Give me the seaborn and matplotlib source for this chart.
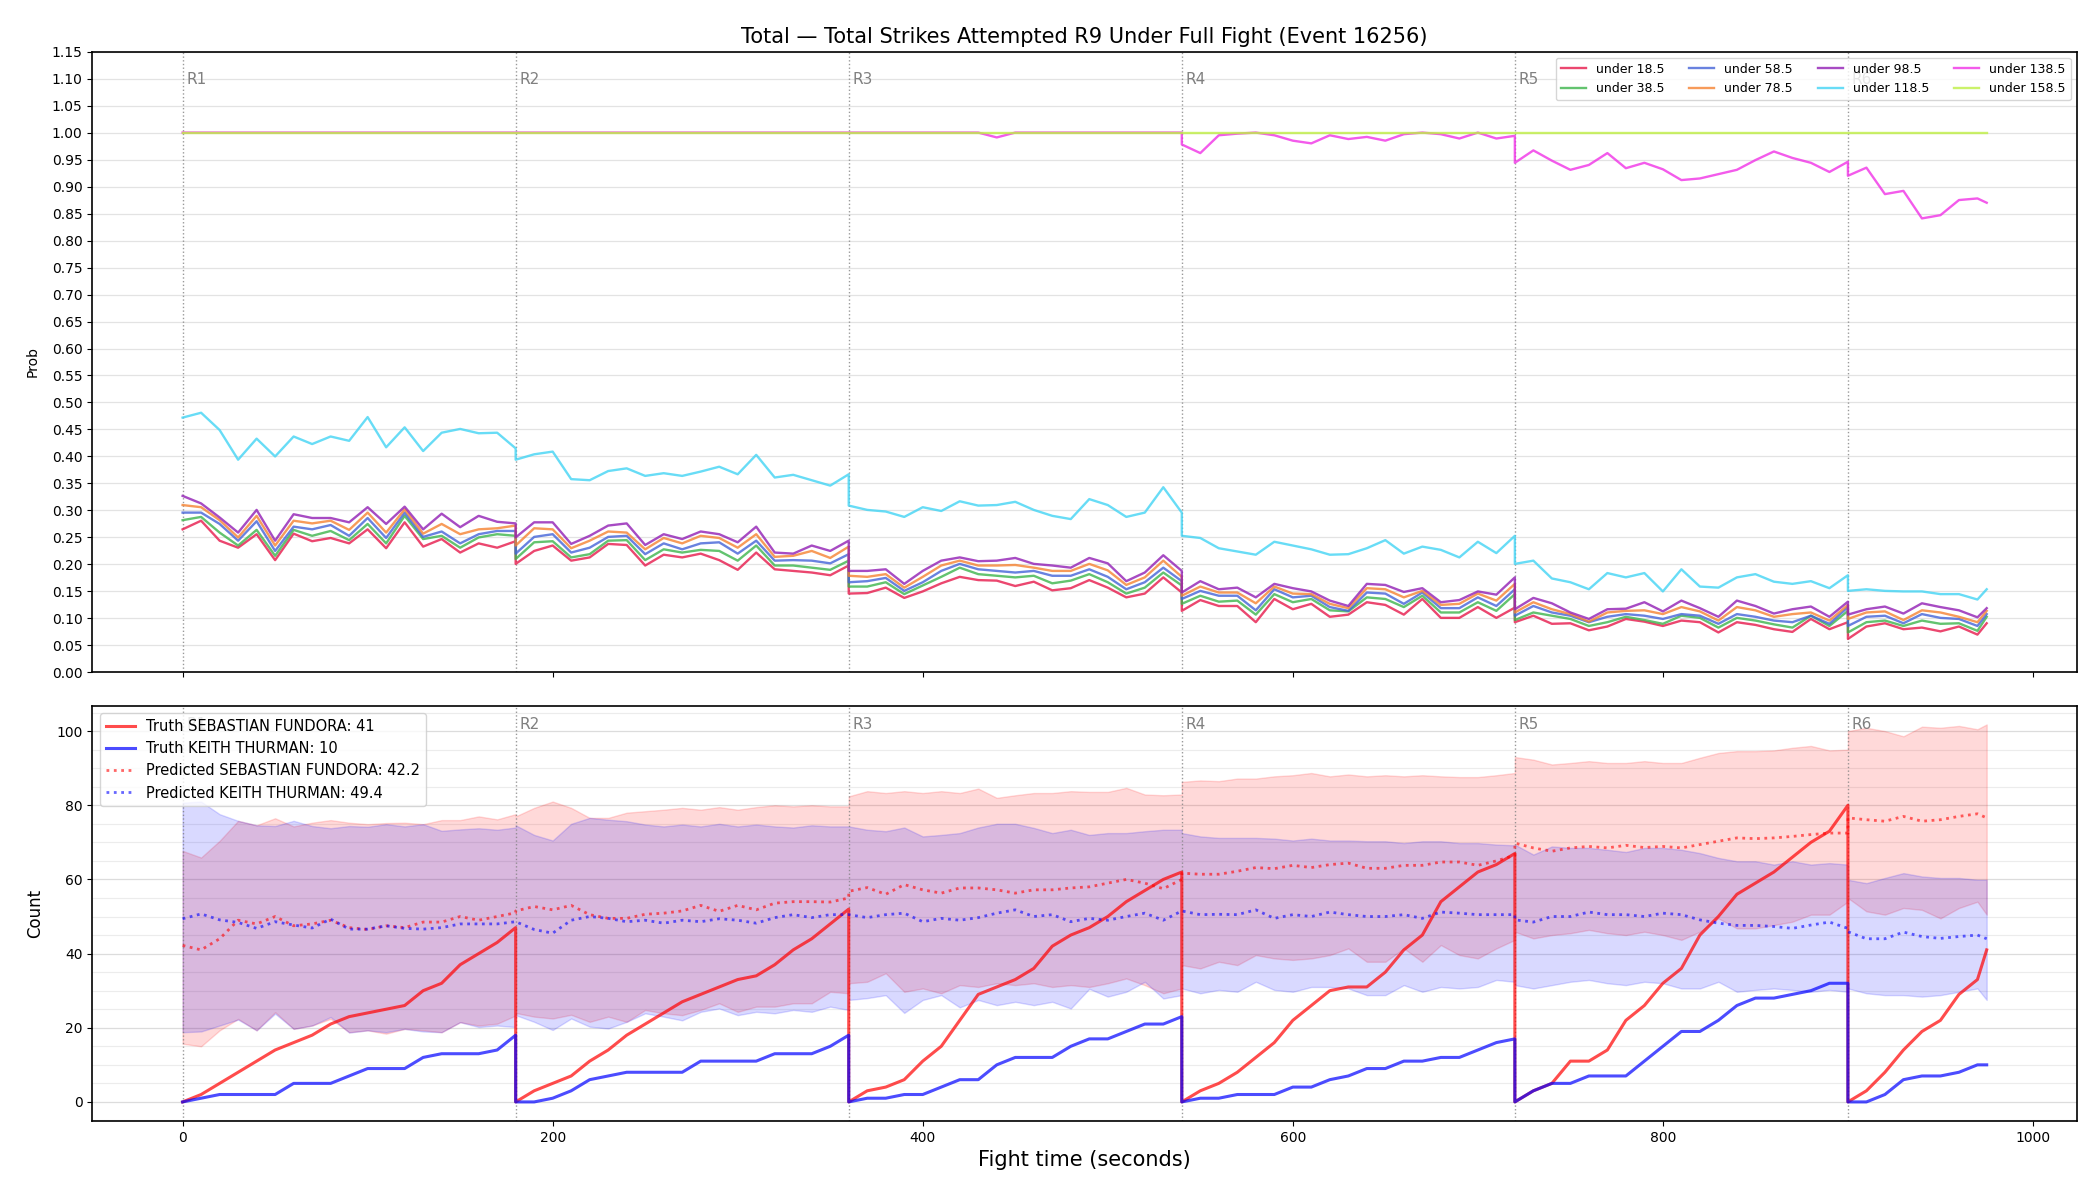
import numpy as np
import matplotlib
matplotlib.use("Agg")
import matplotlib.pyplot as plt
from matplotlib.ticker import MultipleLocator, FormatStrFormatter
import seaborn as sns

# round starts (seconds) and end of the fight
ROUND_STARTS = [0, 180, 360, 540, 720, 900]
FIGHT_END = 975

# each round sampled every 10 s; boundary times repeat so the reset is drawn
round_times = [np.arange(s, s + 181, 10) for s in ROUND_STARTS[:-1]]
round_times.append(np.append(np.arange(900, FIGHT_END, 10), FIGHT_END))
time = np.concatenate(round_times)

# ---- top panel: P(total strikes attempted in R9 under X) ----
line_labels = ["under 18.5", "under 38.5", "under 58.5", "under 78.5",
               "under 98.5", "under 118.5", "under 138.5", "under 158.5"]
line_colors = ["#e6194b", "#3cb44b", "#4363d8", "#f58231",
               "#911eb4", "#42d4f4", "#f032e6", "#bfef45"]

under_18 = [
    [0.265, 0.281, 0.244, 0.231, 0.256, 0.208, 0.257, 0.243, 0.249, 0.239, 0.265, 0.230, 0.278, 0.233, 0.247, 0.222, 0.239, 0.231, 0.243],
    [0.201, 0.225, 0.235, 0.207, 0.213, 0.238, 0.236, 0.198, 0.218, 0.213, 0.220, 0.208, 0.190, 0.222, 0.191, 0.188, 0.185, 0.180, 0.198],
    [0.146, 0.147, 0.157, 0.138, 0.150, 0.165, 0.177, 0.171, 0.170, 0.160, 0.168, 0.152, 0.156, 0.171, 0.157, 0.139, 0.146, 0.176, 0.148],
    [0.114, 0.134, 0.123, 0.123, 0.093, 0.136, 0.117, 0.127, 0.103, 0.107, 0.130, 0.125, 0.107, 0.136, 0.101, 0.101, 0.121, 0.101, 0.120],
    [0.093, 0.105, 0.090, 0.091, 0.078, 0.085, 0.099, 0.094, 0.086, 0.096, 0.093, 0.074, 0.093, 0.088, 0.080, 0.075, 0.099, 0.080, 0.093],
    [0.062, 0.085, 0.091, 0.080, 0.083, 0.076, 0.085, 0.070, 0.091],
]
under_38 = [
    [0.282, 0.288, 0.259, 0.235, 0.264, 0.216, 0.264, 0.253, 0.262, 0.245, 0.275, 0.239, 0.290, 0.247, 0.253, 0.231, 0.250, 0.256, 0.253],
    [0.210, 0.241, 0.243, 0.213, 0.219, 0.244, 0.245, 0.208, 0.228, 0.222, 0.227, 0.225, 0.207, 0.235, 0.198, 0.198, 0.194, 0.190, 0.207],
    [0.159, 0.159, 0.167, 0.145, 0.161, 0.177, 0.194, 0.182, 0.179, 0.176, 0.179, 0.165, 0.170, 0.182, 0.167, 0.146, 0.157, 0.185, 0.161],
    [0.127, 0.142, 0.131, 0.133, 0.107, 0.145, 0.130, 0.136, 0.115, 0.113, 0.139, 0.136, 0.121, 0.142, 0.111, 0.111, 0.130, 0.114, 0.145],
    [0.097, 0.111, 0.105, 0.099, 0.086, 0.093, 0.103, 0.097, 0.090, 0.105, 0.101, 0.083, 0.101, 0.096, 0.089, 0.083, 0.105, 0.086, 0.114],
    [0.074, 0.093, 0.096, 0.086, 0.096, 0.090, 0.091, 0.077, 0.103],
]
under_58 = [
    [0.296, 0.296, 0.275, 0.244, 0.280, 0.225, 0.270, 0.265, 0.273, 0.253, 0.286, 0.249, 0.296, 0.251, 0.261, 0.239, 0.256, 0.262, 0.262],
    [0.220, 0.251, 0.256, 0.222, 0.231, 0.251, 0.253, 0.219, 0.239, 0.228, 0.239, 0.241, 0.220, 0.244, 0.207, 0.208, 0.207, 0.202, 0.219],
    [0.167, 0.169, 0.175, 0.151, 0.167, 0.188, 0.201, 0.191, 0.188, 0.185, 0.188, 0.179, 0.179, 0.191, 0.177, 0.154, 0.167, 0.194, 0.169],
    [0.136, 0.151, 0.142, 0.142, 0.115, 0.154, 0.139, 0.142, 0.121, 0.114, 0.148, 0.146, 0.127, 0.148, 0.119, 0.119, 0.139, 0.123, 0.154],
    [0.105, 0.123, 0.111, 0.105, 0.093, 0.103, 0.108, 0.105, 0.099, 0.108, 0.105, 0.090, 0.108, 0.103, 0.096, 0.093, 0.105, 0.090, 0.121],
    [0.086, 0.103, 0.105, 0.091, 0.108, 0.101, 0.099, 0.086, 0.108],
]
under_78 = [
    [0.310, 0.306, 0.282, 0.250, 0.290, 0.235, 0.281, 0.276, 0.281, 0.264, 0.296, 0.259, 0.302, 0.257, 0.275, 0.256, 0.265, 0.267, 0.272],
    [0.235, 0.267, 0.265, 0.230, 0.244, 0.261, 0.259, 0.228, 0.249, 0.239, 0.253, 0.249, 0.231, 0.256, 0.214, 0.216, 0.225, 0.212, 0.233],
    [0.179, 0.177, 0.182, 0.157, 0.177, 0.198, 0.207, 0.198, 0.198, 0.199, 0.194, 0.188, 0.188, 0.201, 0.189, 0.162, 0.176, 0.207, 0.177],
    [0.142, 0.159, 0.148, 0.148, 0.128, 0.159, 0.146, 0.145, 0.127, 0.119, 0.156, 0.154, 0.139, 0.151, 0.125, 0.127, 0.146, 0.133, 0.164],
    [0.111, 0.130, 0.117, 0.108, 0.094, 0.111, 0.114, 0.115, 0.108, 0.121, 0.113, 0.096, 0.121, 0.115, 0.103, 0.108, 0.111, 0.096, 0.125],
    [0.099, 0.111, 0.113, 0.097, 0.115, 0.111, 0.103, 0.093, 0.114],
]
under_98 = [
    [0.327, 0.313, 0.287, 0.259, 0.301, 0.244, 0.293, 0.286, 0.286, 0.278, 0.306, 0.275, 0.307, 0.265, 0.294, 0.269, 0.290, 0.279, 0.276],
    [0.250, 0.278, 0.278, 0.238, 0.253, 0.272, 0.276, 0.236, 0.256, 0.247, 0.261, 0.256, 0.241, 0.270, 0.222, 0.220, 0.235, 0.225, 0.244],
    [0.188, 0.188, 0.191, 0.164, 0.188, 0.207, 0.213, 0.206, 0.207, 0.212, 0.201, 0.198, 0.194, 0.212, 0.202, 0.169, 0.185, 0.217, 0.188],
    [0.148, 0.169, 0.154, 0.157, 0.139, 0.164, 0.156, 0.150, 0.133, 0.123, 0.164, 0.162, 0.149, 0.156, 0.130, 0.134, 0.150, 0.144, 0.176],
    [0.117, 0.138, 0.128, 0.111, 0.099, 0.117, 0.118, 0.130, 0.113, 0.133, 0.119, 0.103, 0.133, 0.123, 0.109, 0.117, 0.122, 0.103, 0.131],
    [0.107, 0.117, 0.122, 0.109, 0.128, 0.121, 0.115, 0.102, 0.119],
]
under_118 = [
    [0.472, 0.481, 0.449, 0.394, 0.433, 0.400, 0.437, 0.423, 0.437, 0.429, 0.473, 0.417, 0.454, 0.410, 0.444, 0.451, 0.443, 0.444, 0.415],
    [0.394, 0.404, 0.409, 0.358, 0.356, 0.373, 0.378, 0.364, 0.369, 0.364, 0.372, 0.381, 0.367, 0.403, 0.361, 0.366, 0.356, 0.346, 0.367],
    [0.309, 0.301, 0.298, 0.288, 0.306, 0.299, 0.317, 0.309, 0.310, 0.316, 0.301, 0.290, 0.284, 0.321, 0.310, 0.288, 0.296, 0.343, 0.296],
    [0.253, 0.249, 0.230, 0.224, 0.218, 0.242, 0.235, 0.228, 0.218, 0.219, 0.230, 0.245, 0.220, 0.233, 0.227, 0.213, 0.242, 0.221, 0.253],
    [0.201, 0.207, 0.174, 0.167, 0.154, 0.184, 0.176, 0.184, 0.150, 0.191, 0.159, 0.157, 0.176, 0.182, 0.168, 0.164, 0.169, 0.156, 0.180],
    [0.151, 0.154, 0.151, 0.150, 0.150, 0.145, 0.145, 0.135, 0.154],
]
under_138 = [
    [1.0, 1.0, 1.0, 1.0, 1.0, 1.0, 1.0, 1.0, 1.0, 1.0, 1.0, 1.0, 1.0, 1.0, 1.0, 1.0, 1.0, 1.0, 1.0],
    [1.0, 1.0, 1.0, 1.0, 1.0, 1.0, 1.0, 1.0, 1.0, 1.0, 1.0, 1.0, 1.0, 1.0, 1.0, 1.0, 1.0, 1.0, 1.0],
    [1.0, 1.0, 1.0, 1.0, 1.0, 1.0, 1.0, 1.0, 0.991, 1.0, 1.0, 1.0, 1.0, 1.0, 1.0, 1.0, 1.0, 1.0, 1.0],
    [0.978, 0.962, 0.995, 0.998, 1.0, 0.995, 0.985, 0.980, 0.995, 0.988, 0.992, 0.985, 0.997, 1.0, 0.997, 0.989, 1.0, 0.989, 0.994],
    [0.944, 0.967, 0.948, 0.931, 0.940, 0.962, 0.934, 0.944, 0.932, 0.912, 0.915, 0.923, 0.931, 0.949, 0.965, 0.953, 0.944, 0.927, 0.946],
    [0.920, 0.935, 0.886, 0.892, 0.841, 0.847, 0.875, 0.878, 0.870],
]
under_158 = [
    [1.0, 1.0, 1.0, 1.0, 1.0, 1.0, 1.0, 1.0, 1.0, 1.0, 1.0, 1.0, 1.0, 1.0, 1.0, 1.0, 1.0, 1.0, 1.0],
    [1.0, 1.0, 1.0, 1.0, 1.0, 1.0, 1.0, 1.0, 1.0, 1.0, 1.0, 1.0, 1.0, 1.0, 1.0, 1.0, 1.0, 1.0, 1.0],
    [1.0, 1.0, 1.0, 1.0, 1.0, 1.0, 1.0, 1.0, 1.0, 1.0, 1.0, 1.0, 1.0, 1.0, 1.0, 1.0, 1.0, 1.0, 1.0],
    [1.0, 1.0, 1.0, 1.0, 1.0, 1.0, 1.0, 1.0, 1.0, 1.0, 1.0, 1.0, 1.0, 1.0, 1.0, 1.0, 1.0, 1.0, 1.0],
    [1.0, 1.0, 1.0, 1.0, 1.0, 1.0, 1.0, 1.0, 1.0, 1.0, 1.0, 1.0, 1.0, 1.0, 1.0, 1.0, 1.0, 1.0, 1.0],
    [1.0, 1.0, 1.0, 1.0, 1.0, 1.0, 1.0, 1.0, 1.0],
]
prob_series = [under_18, under_38, under_58, under_78,
               under_98, under_118, under_138, under_158]

# ---- bottom panel: cumulative counts per round ----
truth_fundora = [
    [0, 2, 5, 8, 11, 14, 16, 18, 21, 23, 24, 25, 26, 30, 32, 37, 40, 43, 47],
    [0, 3, 5, 7, 11, 14, 18, 21, 24, 27, 29, 31, 33, 34, 37, 41, 44, 48, 52],
    [0, 3, 4, 6, 11, 15, 22, 29, 31, 33, 36, 42, 45, 47, 50, 54, 57, 60, 62],
    [0, 3, 5, 8, 12, 16, 22, 26, 30, 31, 31, 35, 41, 45, 54, 58, 62, 64, 67],
    [0, 3, 5, 11, 11, 14, 22, 26, 32, 36, 45, 50, 56, 59, 62, 66, 70, 73, 80],
    [0, 3, 8, 14, 19, 22, 29, 33, 41],
]
truth_thurman = [
    [0, 1, 2, 2, 2, 2, 5, 5, 5, 7, 9, 9, 9, 12, 13, 13, 13, 14, 18],
    [0, 0, 1, 3, 6, 7, 8, 8, 8, 8, 11, 11, 11, 11, 13, 13, 13, 15, 18],
    [0, 1, 1, 2, 2, 4, 6, 6, 10, 12, 12, 12, 15, 17, 17, 19, 21, 21, 23],
    [0, 1, 1, 2, 2, 2, 4, 4, 6, 7, 9, 9, 11, 11, 12, 12, 14, 16, 17],
    [0, 3, 5, 5, 7, 7, 7, 11, 15, 19, 19, 22, 26, 28, 28, 29, 30, 32, 32],
    [0, 0, 2, 6, 7, 7, 8, 10, 10],
]
pred_fundora = [
    [42.2, 41, 44, 49, 48, 50, 47.5, 48, 49, 47, 46.5, 47.5, 47, 48.5, 48.5, 50, 49, 50, 51],
    [51.5, 52.7, 51.8, 53, 50.5, 49.5, 49.5, 50.6, 50.9, 51.5, 53, 51.4, 53, 51.8, 53.6, 54, 54, 53.9, 55],
    [56.8, 57.8, 56, 58.6, 57.2, 56.3, 57.7, 57.7, 57.2, 56.3, 57.2, 57.2, 57.7, 58, 59, 60, 59, 57.5, 60],
    [61.7, 61.4, 61.4, 62.2, 63.2, 62.9, 63.8, 63.2, 64, 64.4, 63, 63, 63.8, 63.8, 64.7, 64.7, 63.8, 65, 66.5],
    [69.8, 68.5, 67.6, 68.5, 68.9, 68.5, 69.2, 68.6, 68.9, 68.5, 69.4, 70.3, 71.2, 71, 71.2, 71.6, 72.1, 72.5, 72.5],
    [76.6, 76.1, 75.7, 77, 75.7, 76.1, 77, 77.7, 76.6],
]
pred_thurman = [
    [49.4, 50.7, 49.1, 48.4, 46.8, 48.6, 47.7, 46.9, 49.3, 46.6, 46.6, 47.5, 46.8, 46.6, 47, 48, 48, 48, 48.6],
    [48.6, 46.5, 45.5, 49, 50, 49.5, 48.6, 49, 48.2, 49, 48.6, 49.4, 49, 48.2, 49.7, 50.5, 49.7, 50.5, 50.5],
    [50.5, 49.7, 50.5, 50.9, 48.6, 49.5, 49, 49.7, 50.9, 51.8, 50, 50.5, 48.6, 49.5, 49, 50, 50.9, 49, 51.5],
    [51.5, 50.5, 50.6, 50.5, 51.8, 49.5, 50.5, 50, 51.2, 50.5, 50, 50, 50.5, 49.5, 51.2, 50.9, 50.5, 50.5, 50.5],
    [49.1, 48.5, 50, 50, 51.2, 50.5, 50.5, 50, 50.9, 50.5, 49.1, 48.2, 47.6, 47.6, 47.3, 46.8, 47.7, 48.5, 46.8],
    [45.9, 44, 44, 45.8, 44.6, 44.1, 44.6, 45, 44],
]
fundora_hi = [
    [67.7, 65.9, 70.4, 75.8, 74.6, 76.5, 74.3, 75.3, 76, 75.3, 74.9, 75.2, 75.3, 74.9, 76, 76, 77, 76.2, 77.6],
    [77, 79.3, 81, 79.3, 76.6, 76.6, 78, 78.4, 78.8, 79.3, 78.8, 79.5, 78.8, 79.5, 80, 79.7, 80, 79.7, 79.7],
    [82.4, 83.8, 83.3, 83.8, 83.3, 83.8, 83.3, 84.5, 82, 82.7, 83.3, 83.3, 83.8, 83.6, 83.6, 84.7, 82.9, 82.7, 82.9],
    [86.3, 86.7, 86.5, 87.2, 87.2, 87.8, 88.1, 88.7, 87.8, 88.3, 87.8, 88.1, 87.8, 88.1, 87.8, 87.6, 87.6, 88.1, 88.7],
    [93, 92.3, 91, 91.4, 91.9, 91.4, 91.4, 91.9, 91.4, 91.4, 92.8, 94.1, 94.6, 94.6, 94.8, 95.5, 96, 94.8, 95],
    [100, 100.9, 100, 98.6, 101.2, 100.9, 101.4, 100.5, 101.8],
]
fundora_lo = [
    [15.7, 15, 19.3, 22.4, 19.3, 24.2, 19.7, 20.6, 22.4, 18.8, 19.3, 18.4, 19.7, 19.3, 18.8, 21.5, 20.6, 21.1, 23.3],
    [24, 23, 22.5, 23.5, 21.6, 23, 21.6, 24.8, 23.9, 23.4, 24.8, 26.6, 24.3, 25.7, 25.7, 26.6, 26.6, 29.7, 29.3],
    [32, 32.4, 34.7, 29.7, 30.6, 29.3, 31.5, 31, 32, 31.5, 32, 31, 31.5, 31, 32, 33.3, 31.5, 29.3, 30.6],
    [36.9, 36, 37.8, 36.9, 39.6, 38.7, 38.3, 38.7, 39.6, 41.4, 37.8, 37.8, 41.4, 37.8, 42.3, 39.6, 38.7, 41.4, 43.7],
    [45.9, 44.1, 45, 45.5, 46.4, 45.5, 45, 45.9, 45, 43.7, 45.9, 49.5, 46.8, 46.8, 47.7, 48.6, 50.5, 50.5, 54],
    [55, 51.4, 50.5, 52.3, 51.8, 49.5, 52.3, 54, 50.5],
]
thurman_hi = [
    [80.7, 81, 77.6, 75.8, 74.6, 74.4, 75.8, 74.4, 73.8, 74.4, 74.2, 74.9, 74.3, 74.9, 73.1, 73.5, 73.8, 73.4, 74],
    [74.6, 72, 70.5, 75, 76.6, 76.1, 75.7, 74.8, 74.3, 74.8, 74.3, 75, 74.3, 74.8, 74.3, 74, 74.6, 74.3, 74.3],
    [74.3, 73.4, 73, 74, 71.6, 72, 72.5, 74, 75, 75, 73.9, 72.5, 73.4, 72, 72.5, 72.5, 73, 73.4, 73.4],
    [72.5, 71.6, 71.2, 71.2, 71.2, 71, 70.5, 71, 70.5, 70.5, 70.3, 70.3, 69.8, 70.3, 70.3, 69.8, 69.8, 69.4, 69.2],
    [69.4, 66.7, 68.9, 68.5, 68.5, 68, 67.4, 68.5, 68.5, 68, 67.1, 65.8, 64.9, 64.9, 64, 64.9, 64, 64.4, 64],
    [59.9, 59, 60.4, 61.7, 60.8, 60.4, 60.4, 59.9, 59.9],
]
thurman_lo = [
    [18.8, 19, 20.6, 22.2, 19.3, 23.8, 19.7, 20.6, 22.9, 18.7, 19.3, 18.8, 19.7, 19, 18.8, 21.5, 20.2, 20.6, 20.2],
    [23.4, 21.6, 19.4, 22.5, 20.3, 19.8, 21.6, 23.9, 23, 22, 24.3, 25.2, 23.4, 24.3, 23.9, 24.8, 24.3, 25.7, 24.8],
    [27.5, 28, 28.8, 24, 27.5, 28.8, 25.5, 27.5, 26.1, 27, 26.1, 27, 25.2, 30.5, 28.4, 29.7, 32.4, 27.9, 28.8],
    [30.6, 29.3, 30.2, 29.7, 32.4, 30.2, 29.7, 31, 31, 30.6, 28.8, 28.8, 31.5, 29.7, 31, 30.6, 31, 32.9, 32.4],
    [31.5, 30.6, 31.5, 32.4, 32.9, 32, 31.5, 32.4, 32, 30.6, 30.6, 32.4, 29.7, 30.2, 30.6, 30.2, 29.7, 30.2, 29.7],
    [30.6, 29.3, 28.8, 28.8, 28.4, 28.8, 29.7, 30.6, 27.5],
]


def flat(rounds):
    return np.concatenate([np.asarray(r, dtype=float) for r in rounds])


plt.rcParams["axes.linewidth"] = 1.2

fig, (ax1, ax2) = plt.subplots(2, 1, figsize=(21, 12), dpi=100, sharex=True,
                               gridspec_kw={"height_ratios": [1.495, 1]})
fig.subplots_adjust(left=0.044, right=0.989, top=0.957, bottom=0.066, hspace=0.064)

# top: probability lines
for label, color, rounds in zip(line_labels, line_colors, prob_series):
    sns.lineplot(x=time, y=flat(rounds), ax=ax1, color=color, label=label,
                 estimator=None, sort=False, linewidth=1.7, alpha=0.8)

ax1.set_ylim(0, 1.15)
ax1.yaxis.set_major_locator(MultipleLocator(0.05))
ax1.yaxis.set_major_formatter(FormatStrFormatter("%.2f"))
ax1.set_ylabel("Prob", fontsize=10, labelpad=9)
ax1.grid(axis="y", color="#e3e3e3", linewidth=0.9)
ax1.grid(axis="x", visible=False)
ax1.set_axisbelow(True)
ax1.set_title("Total \u2014 Total Strikes Attempted R9 Under Full Fight (Event 16256)", fontsize=15)
ax1.legend(loc="upper right", ncol=4, fontsize=9, framealpha=0.8)

# bottom: bands, truth and predicted counts
ax2.fill_between(time, flat(fundora_lo), flat(fundora_hi), color="red", alpha=0.15)
ax2.fill_between(time, flat(thurman_lo), flat(thurman_hi), color="blue", alpha=0.15)
sns.lineplot(x=time, y=flat(truth_fundora), ax=ax2, color="red", alpha=0.7, linewidth=2.2,
             estimator=None, sort=False, label="Truth SEBASTIAN FUNDORA: 41")
sns.lineplot(x=time, y=flat(truth_thurman), ax=ax2, color="blue", alpha=0.7, linewidth=2.2,
             estimator=None, sort=False, label="Truth KEITH THURMAN: 10")
sns.lineplot(x=time, y=flat(pred_fundora), ax=ax2, color="red", alpha=0.6, linewidth=2,
             linestyle=":", estimator=None, sort=False, label="Predicted SEBASTIAN FUNDORA: 42.2")
sns.lineplot(x=time, y=flat(pred_thurman), ax=ax2, color="blue", alpha=0.6, linewidth=2,
             linestyle=":", estimator=None, sort=False, label="Predicted KEITH THURMAN: 49.4")

ax2.yaxis.set_major_locator(MultipleLocator(20))
ax2.yaxis.set_minor_locator(MultipleLocator(5))
ax2.tick_params(axis="y", which="minor", length=0)
ax2.grid(axis="y", which="major", color="#dcdcdc", linewidth=0.9)
ax2.grid(axis="y", which="minor", color="#ececec", linewidth=0.8)
ax2.set_axisbelow(True)
ax2.set_ylabel("Count", fontsize=12, labelpad=9)
ax2.set_xlabel("Fight time (seconds)", fontsize=15)
ax2.legend(loc="upper left", fontsize=10.5, framealpha=0.8)

# round markers
for ax in (ax1, ax2):
    for i, start in enumerate(ROUND_STARTS):
        ax.axvline(start, color="gray", linestyle=":", linewidth=1, alpha=0.8, zorder=1)
        ax.text(start + 2, 0.955, f"R{i + 1}", transform=ax.get_xaxis_transform(),
                ha="left", va="center", color="gray", fontsize=11, zorder=1)

fig.savefig("out.png", dpi=100)
